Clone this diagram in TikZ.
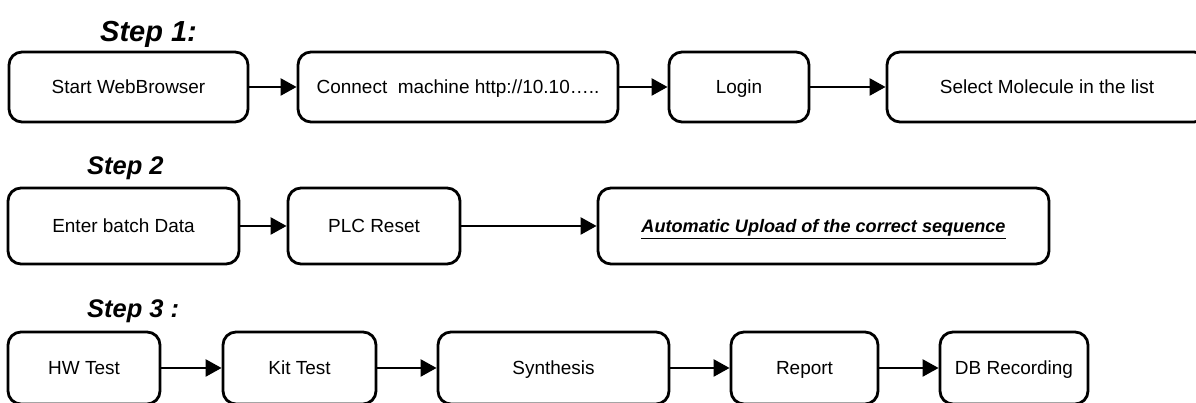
\documentclass[tikz,border=0pt]{standalone}
\usepackage{fontspec}
\setmainfont{Liberation Sans}
\usetikzlibrary{arrows.meta}
\definecolor{Ink}{HTML}{000000}

\begin{document}
\begin{tikzpicture}[
  stepbox/.style={draw=Ink,line width=1.6pt,rounded corners=0.26cm,minimum height=1.4cm,inner sep=2pt,text height=0.93em,text depth=0.21em,font=\fontsize{10.8}{13}\selectfont,text=Ink},
  flow/.style={-{Triangle[length=0.32cm,width=0.34cm]},line width=1.4pt,color=Ink},
  steptitle/.style={anchor=base west,font=\fontsize{14.5}{17}\selectfont\bfseries\itshape,text=Ink}
]
\useasboundingbox (0,0) rectangle (23.92,8.06);

% Step 1
\node[steptitle,font=\fontsize{16.5}{19}\selectfont\bfseries\itshape] (t1) at (1.88,7.22) {Step 1:};
\node[stepbox,minimum width=4.78cm] (start) at (2.57,6.32) {Start WebBrowser};
\node[stepbox,minimum width=6.4cm] (connect) at (9.16,6.32) {Connect\ \ machine http://10.10…..};
\node[stepbox,minimum width=2.8cm] (login) at (14.78,6.32) {Login};
\node[stepbox,minimum width=6.4cm] (select) at (20.94,6.32) {Select Molecule in the list};
\foreach \a/\b in {start/connect,connect/login,login/select}
  \draw[flow] (\a)--(\b);

% Step 2
\node[steptitle] (t2) at (1.62,4.56) {Step 2};
\node[stepbox,minimum width=4.62cm,minimum height=1.52cm] (batch) at (2.47,3.54) {Enter batch Data};
\node[stepbox,minimum width=3.44cm,minimum height=1.52cm] (plc) at (7.48,3.54) {PLC Reset};
\node[stepbox,minimum width=9.02cm,minimum height=1.52cm,font=\fontsize{10.3}{13}\selectfont\bfseries\itshape] (upload) at (16.47,3.54) {\underline{Automatic Upload of the correct sequence}};
\foreach \a/\b in {batch/plc,plc/upload}
  \draw[flow] (\a)--(\b);

% Step 3
\node[steptitle] (t3) at (1.62,1.70) {Step 3 :};
\node[stepbox,minimum width=3.04cm,minimum height=1.44cm] (hw) at (1.68,0.70) {HW Test};
\node[stepbox,minimum width=3.06cm,minimum height=1.44cm] (kit) at (5.99,0.70) {Kit Test};
\node[stepbox,minimum width=4.62cm,minimum height=1.44cm] (synth) at (11.07,0.70) {Synthesis};
\node[stepbox,minimum width=2.94cm,minimum height=1.44cm] (report) at (16.09,0.70) {Report};
\node[stepbox,minimum width=2.96cm,minimum height=1.44cm] (db) at (20.28,0.70) {DB Recording};
\foreach \a/\b in {hw/kit,kit/synth,synth/report,report/db}
  \draw[flow] (\a)--(\b);
\end{tikzpicture}
\end{document}
